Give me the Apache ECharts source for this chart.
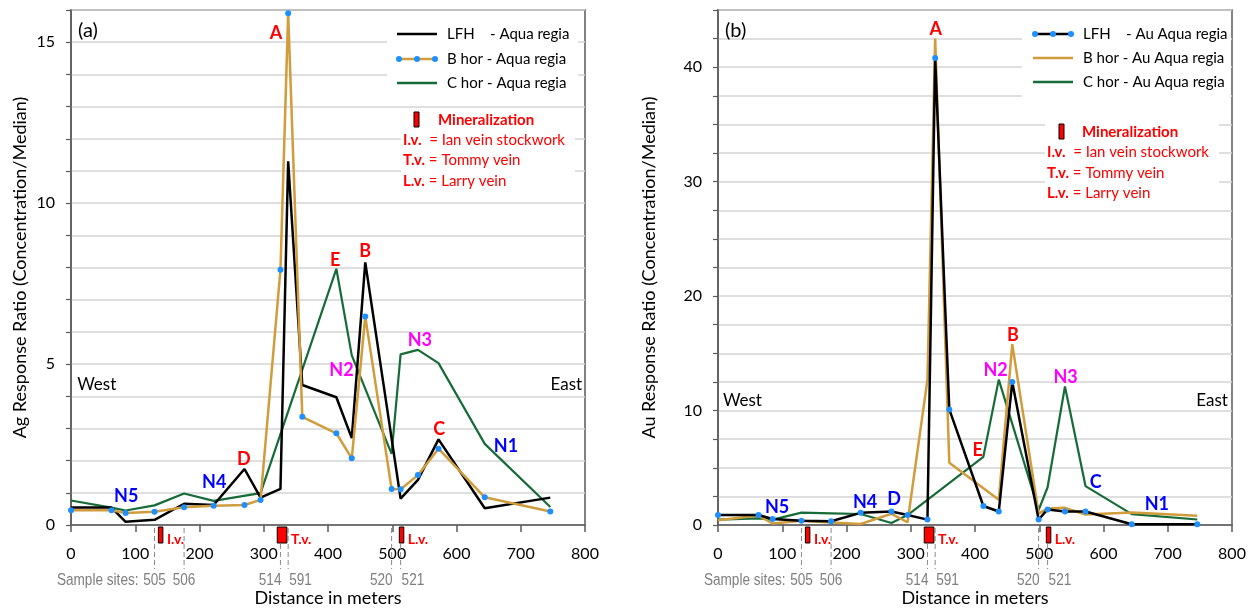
<!DOCTYPE html>
<html>
<head>
<meta charset="utf-8">
<script src="https://cdn.jsdelivr.net/npm/echarts@6/dist/echarts.min.js"></script>
<style>
html,body{margin:0;padding:0;background:#fff;}
#chart{width:1257px;height:610px;}
</style>
</head>
<body>
<div id="chart"></div>
<script>
// ---------- DATA ----------
const xPos = [0, 63, 85, 130, 176, 222, 270, 295, 326, 338, 360, 413, 437, 458, 499, 513, 540, 572, 644, 746];

// (a) Ag response ratio
const agLFH  = [0.54, 0.54, 0.10, 0.16, 0.66, 0.62, 1.74, 0.85, 1.12, 11.3, 4.35, 3.97, 2.70, 8.16, null, 0.82, 1.40, 2.66, 0.52, 0.85];
const agBhor = [0.46, 0.46, 0.37, 0.41, 0.55, 0.60, 0.62, 0.78, 7.93, 15.9, 3.36, 2.85, 2.07, 6.48, 1.12, 1.11, 1.55, 2.37, 0.86, 0.42];
const agChor = [0.76, 0.54, 0.45, 0.61, 0.98, 0.75, null, 0.99, null, null, null, 7.96, 5.27, null, 2.21, 5.30, 5.44, 5.03, 2.52, 0.56];

// (b) Au response ratio
const auLFH  = [0.88, 0.88, 0.52, 0.38, 0.33, 1.06, 1.18, 0.88, 0.47, 40.8, 10.1, 1.66, 1.18, 12.5, 0.48, 1.36, 1.18, 1.18, 0.07, 0.07];
const auBhor = [0.42, 0.82, 0.13, 0.38, 0.22, 0.09, 0.98, 0.24, 12.7, 42.5, 5.45, null, 2.20, 15.8, 1.00, 1.45, 1.50, 0.92, 1.10, 0.80];
const auChor = [0.47, 0.58, 0.47, 1.08, 1.02, 0.96, 0.17, 0.87, null, null, null, 5.96, 12.7, null, 1.30, 3.30, 12.1, 3.40, 0.95, 0.48];

// sample sites and mineralization below the axis
const siteX = [130, 176, 326, 338, 499, 513];
const siteLabels = ['505', '506', '514', '591', '520', '521'];
const siteAlign = ['center', 'center', 'right', 'left', 'right', 'left'];
const veinRanges = [[136, 143], [321, 336], [511, 518]];
const veinLabels = ['I.v.', 'T.v.', 'L.v.'];

// annotations [x, y, text, colorKey]
const agNotes = [
  [319, 15.27, 'A', 'red'], [411, 8.22, 'E', 'red'], [458, 8.5, 'B', 'red'], [269, 2.03, 'D', 'red'], [573, 2.97, 'C', 'red'],
  [86, 0.9, 'N5', 'blue'], [223, 1.33, 'N4', 'blue'], [421, 4.81, 'N2', 'mag'], [543, 5.74, 'N3', 'mag'], [677, 2.45, 'N1', 'blue'],
  [40, 4.35, 'West', 'txt'], [771, 4.35, 'East', 'txt']
];
const auNotes = [
  [339, 43.3, 'A', 'red'], [459, 16.6, 'B', 'red'], [404, 6.5, 'E', 'red'], [432, 13.5, 'N2', 'mag'], [541, 12.9, 'N3', 'mag'],
  [92, 1.6, 'N5', 'blue'], [229, 2.0, 'N4', 'blue'], [274, 2.25, 'D', 'blue'], [588, 3.75, 'C', 'blue'], [683, 1.8, 'N1', 'blue'],
  [38, 10.9, 'West', 'txt'], [769, 10.9, 'East', 'txt']
];

const yTicksA = {max: 16, step: 1, labelEvery: 5};
const yTicksB = {max: 45, step: 2.5, labelEvery: 10};

// ---------- STYLE ----------
const FONT = 'Lato, "Open Sans", sans-serif';
const GREYFONT = '16px "Liberation Sans", Arial, sans-serif';
const C_BLACK = '#000000', C_GOLD = '#D09C3C', C_GREEN = '#176B38', C_DOT = '#1E8FFF';
const noteColors = {red: '#FF0000', blue: '#0000FF', mag: '#FF00FF', txt: '#000000'};
const FRAME = '#5a5a5a';

function pairs(ys) {
  const out = [];
  ys.forEach((v, i) => { if (v !== null) out.push([xPos[i], v]); });
  return out;
}

function xAxisCfg(gi) {
  return {
    gridIndex: gi, type: 'value', min: 0, max: 800, interval: 100,
    axisLine: {show: true, onZero: false, lineStyle: {color: FRAME, width: 1.5}},
    axisTick: {show: true, length: 7, lineStyle: {color: FRAME, width: 1.5}},
    splitLine: {show: false},
    axisLabel: {color: '#000', fontSize: 16, fontFamily: FONT, margin: 21},
    name: 'Distance in meters', nameLocation: 'middle', nameGap: 64,
    nameTextStyle: {color: '#000', fontSize: 18, fontFamily: FONT}
  };
}
function yAxisCfg(gi, t, name, gap) {
  return {
    gridIndex: gi, type: 'value', min: 0, max: t.max, interval: t.step,
    axisLine: {show: true, lineStyle: {color: FRAME, width: 1.5}},
    axisTick: {show: true, length: 5, lineStyle: {color: FRAME, width: 1.2}},
    splitLine: {show: true, lineStyle: {color: '#d4d4d4', width: 1.5}},
    axisLabel: {color: '#000', fontSize: 16, fontFamily: FONT, margin: 16,
      formatter: v => (Math.abs(v % t.labelEvery) < 1e-9 ? String(v) : '')},
    name: name, nameLocation: 'middle', nameGap: gap, nameRotate: 90,
    nameTextStyle: {color: '#000', fontSize: 18, fontFamily: FONT}
  };
}

function lineSeries(gi, name, ys, color, width, dots, z) {
  return {
    type: 'line', name: name, xAxisIndex: gi, yAxisIndex: gi, data: pairs(ys),
    lineStyle: {color: color, width: width}, itemStyle: {color: dots ? C_DOT : color, borderWidth: 0},
    symbol: dots ? 'circle' : 'none', symbolSize: 6, showSymbol: dots, z: z, silent: true
  };
}

function noteSeries(gi, notes) {
  return {
    type: 'custom', xAxisIndex: gi, yAxisIndex: gi, clip: false, silent: true, z: 20,
    encode: {x: 0, y: 1},
    data: notes.map((n, i) => [n[0], n[1], i]),
    renderItem: function (params, api) {
      const p = api.coord([api.value(0), api.value(1)]);
      const n = notes[api.value(2)];
      const isTxt = n[3] === 'txt';
      return {type: 'text', style: {text: n[2], x: p[0], y: p[1], align: 'center', verticalAlign: 'middle',
        fill: noteColors[n[3]], font: (isTxt ? '' : 'bold ') + (isTxt ? '17px ' : '18px ') + FONT}};
    }
  };
}

function greyText(text, x, y, align) {
  return {type: 'text', x: x, y: y, scaleX: 0.85,
    style: {text: text, x: 0, y: 0, align: align, verticalAlign: 'middle', fill: '#7f7f7f', font: GREYFONT}};
}

function sitesSeries(gi) {
  return {
    type: 'custom', xAxisIndex: gi, yAxisIndex: gi, clip: false, silent: true, z: 15,
    encode: {x: 0, y: 1},
    data: siteX.map((x, i) => [x, 0, i]),
    renderItem: function (params, api) {
      const p = api.coord([api.value(0), 0]);
      const i = api.value(2);
      const al = siteAlign[i];
      const tx = al === 'center' ? p[0] : p[0] + 1;
      const children = [
        {type: 'line', shape: {x1: p[0], y1: p[1] + 3, x2: p[0], y2: p[1] + 44},
         style: {stroke: '#8a8a8a', lineWidth: 1, lineDash: [5, 3]}},
        greyText(siteLabels[i], tx, p[1] + 56, al)
      ];
      if (i === 0) children.push(greyText('Sample sites:', p[0] - 16, p[1] + 56, 'right'));
      return {type: 'group', children: children};
    }
  };
}

function veinSeries(gi) {
  return {
    type: 'custom', xAxisIndex: gi, yAxisIndex: gi, clip: false, silent: true, z: 16,
    encode: {x: [0, 1], y: 2},
    data: veinRanges.map((r, i) => [r[0], r[1], 0, i]),
    renderItem: function (params, api) {
      const p0 = api.coord([api.value(0), 0]);
      const p1 = api.coord([api.value(1), 0]);
      const i = api.value(3);
      return {type: 'group', children: [
        {type: 'rect', shape: {x: p0[0], y: p0[1] + 2, width: p1[0] - p0[0], height: 16},
         style: {fill: '#FF0000', stroke: '#000', lineWidth: 1}},
        {type: 'text', style: {text: veinLabels[i], x: p1[0] + 4, y: p0[1] + 14, align: 'left', verticalAlign: 'middle',
         fill: '#FF0000', font: 'bold 14px ' + FONT}}
      ]};
    }
  };
}

// ---------- legends (graphic) ----------
function legendGroup(x0, y0, bgW, bgH, items, mx, my, mbgW, mbgH, mIconX, mTextX, mLineX, titleY, lineYs) {
  const els = [];
  els.push({type: 'rect', shape: {x: x0, y: y0, width: bgW, height: bgH}, style: {fill: '#fff'}, z: 30});
  items.forEach(it => {
    const ix = it.ix, y = it.y;
    els.push({type: 'line', shape: {x1: ix, y1: y, x2: ix + 40, y2: y}, style: {stroke: it.color, lineWidth: it.w}, z: 31});
    if (it.dots) {
      [ix + 2, ix + 20, ix + 38].forEach(cx => els.push({type: 'circle', shape: {cx: cx, cy: y, r: 3}, style: {fill: C_DOT}, z: 32}));
    }
    els.push({type: 'text', style: {text: it.text, x: ix + 50, y: y, verticalAlign: 'middle', fill: '#000', font: '15px ' + FONT}, z: 32});
  });
  els.push({type: 'rect', shape: {x: mx, y: my, width: mbgW, height: mbgH}, style: {fill: '#fff'}, z: 30});
  els.push({type: 'rect', shape: {x: mIconX, y: titleY - 8, width: 5, height: 15}, style: {fill: '#FF0000', stroke: '#000', lineWidth: 1}, z: 31});
  els.push({type: 'text', style: {text: 'Mineralization', x: mTextX, y: titleY, verticalAlign: 'middle', fill: '#FF0000', font: 'bold 15px ' + FONT}, z: 32});
  const defs = [['I.v.', '  = Ian vein stockwork'], ['T.v.', ' = Tommy vein'], ['L.v.', ' = Larry vein']];
  defs.forEach((d, k) => {
    els.push({type: 'text', style: {
      text: '{b|' + d[0] + '}{n|' + d[1] + '}', x: mLineX, y: lineYs[k], verticalAlign: 'middle',
      rich: {b: {fill: '#FF0000', font: 'bold 15px ' + FONT}, n: {fill: '#FF0000', font: '15px ' + FONT}}
    }, z: 32});
  });
  return els;
}

const graphics = [].concat(
  legendGroup(387, 14, 191, 86, [
      {ix: 397, y: 34, color: C_BLACK, w: 2.5, dots: false, text: 'LFH    - Aqua regia'},
      {ix: 397, y: 59, color: C_GOLD, w: 2.5, dots: true, text: 'B hor - Aqua regia'},
      {ix: 397, y: 83, color: C_GREEN, w: 2.5, dots: false, text: 'C hor - Aqua regia'}
    ], 401, 110, 174, 86, 414, 438, 403, 120, [140, 160, 181]),
  legendGroup(1022, 14, 209, 94, [
      {ix: 1033, y: 34, color: C_BLACK, w: 2.5, dots: true, text: 'LFH    - Au Aqua regia'},
      {ix: 1033, y: 58, color: C_GOLD, w: 2.5, dots: false, text: 'B hor - Au Aqua regia'},
      {ix: 1033, y: 82, color: C_GREEN, w: 2.5, dots: false, text: 'C hor - Au Aqua regia'}
    ], 1045, 118, 174, 84, 1059, 1082, 1047, 132, [152, 173, 193]),
  [
    {type: 'text', style: {text: '(a)', x: 78, y: 31, verticalAlign: 'middle', fill: '#000', font: '20px ' + FONT}, z: 40},
    {type: 'text', style: {text: '(b)', x: 725, y: 31, verticalAlign: 'middle', fill: '#000', font: '20px ' + FONT}, z: 40}
  ]
);

const gridBase = {top: 10, bottom: 85, show: true, borderColor: FRAME, borderWidth: 1.5, backgroundColor: '#fff',
  containLabel: false, outerBoundsMode: 'none'};

const option = {
  animation: false,
  backgroundColor: '#ffffff',
  textStyle: {fontFamily: FONT},
  grid: [
    Object.assign({left: 71, right: 672}, gridBase),
    Object.assign({left: 718, right: 25}, gridBase)
  ],
  xAxis: [xAxisCfg(0), xAxisCfg(1)],
  yAxis: [
    yAxisCfg(0, yTicksA, 'Ag Response Ratio (Concentration/Median)', 42),
    yAxisCfg(1, yTicksB, 'Au Response Ratio (Concentration/Median)', 60)
  ],
  series: [
    lineSeries(0, 'C hor - Aqua regia', agChor, C_GREEN, 2.2, false, 3),
    lineSeries(0, 'LFH - Aqua regia', agLFH, C_BLACK, 2.5, false, 4),
    lineSeries(0, 'B hor - Aqua regia', agBhor, C_GOLD, 2.5, true, 5),
    lineSeries(1, 'C hor - Au Aqua regia', auChor, C_GREEN, 2.2, false, 3),
    lineSeries(1, 'B hor - Au Aqua regia', auBhor, C_GOLD, 2.5, false, 4),
    lineSeries(1, 'LFH - Au Aqua regia', auLFH, C_BLACK, 2.5, true, 5),
    noteSeries(0, agNotes), noteSeries(1, auNotes),
    sitesSeries(0), sitesSeries(1), veinSeries(0), veinSeries(1)
  ],
  graphic: graphics
};

const chart = echarts.init(document.getElementById('chart'), null, {renderer: 'canvas'});
chart.setOption(option);
</script>
</body>
</html>
